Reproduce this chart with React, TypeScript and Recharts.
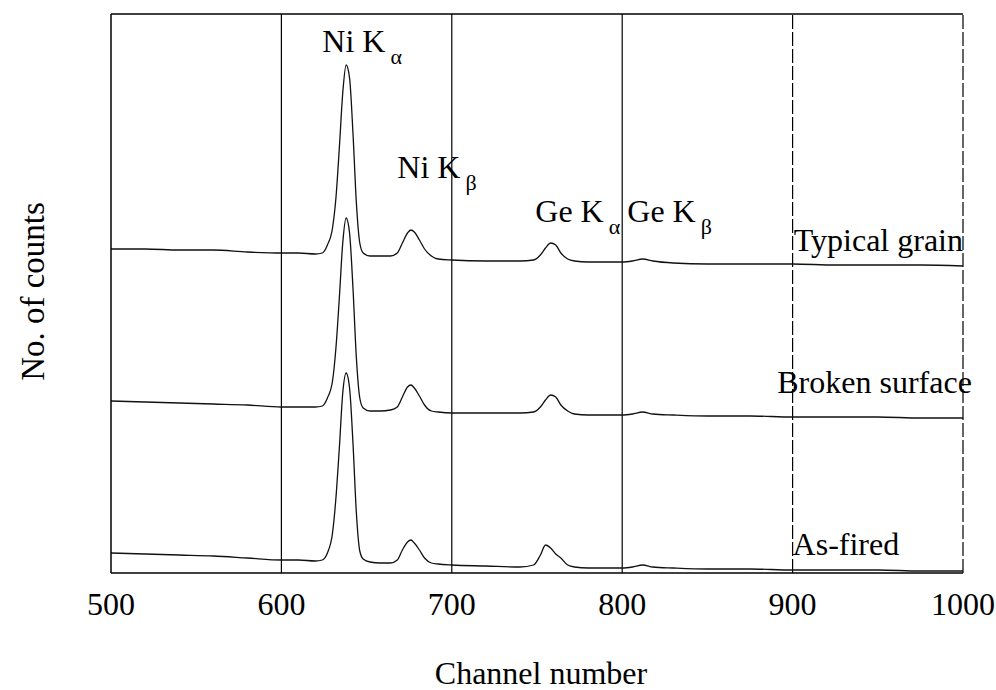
import React from 'react'
import {
  LineChart,
  Line,
  XAxis,
  YAxis,
  ReferenceLine,
  ReferenceDot,
} from 'recharts'

const FONT = "'Liberation Serif', 'Times New Roman', serif"

// channel numbers sampled along the spectra
const channels = [
  500, 520, 540, 560, 580, 600, 610, 620, 624, 627, 630, 632, 634, 636, 638,
  640, 642, 644, 646, 648, 652, 658, 664, 668, 671, 674, 676, 678, 681, 684,
  688, 692, 700, 720, 740, 748, 752, 755, 758, 761, 764, 768, 772, 780, 800,
  806, 812, 818, 830, 850, 875, 900, 925, 950, 975, 1000,
]

// counts (arbitrary units, spectra stacked with offsets as in the figure)
const typicalGrain = [
  324, 324, 323, 323, 321, 320, 320, 319, 320, 328, 345, 375, 425, 480, 508,
  495, 440, 370, 330, 320, 317, 317, 317, 320, 330, 340, 343, 341, 333, 324,
  317, 314, 313, 312, 312, 313, 318, 325, 330, 328, 320, 314, 312, 311, 311,
  312, 314, 312, 310, 309, 309, 309, 308, 308, 308, 307,
]

const brokenSurface = [
  172, 171, 170, 169, 168, 166, 166, 166, 167, 175, 192, 225, 275, 330, 355,
  340, 285, 215, 175, 165, 162, 162, 163, 166, 176, 186, 188, 185, 177, 168,
  162, 161, 160, 160, 160, 161, 166, 173, 178, 176, 168, 162, 159, 158, 158,
  159, 161, 159, 158, 157, 157, 156, 156, 156, 155, 155,
]

const asFired = [
  20, 19, 18, 17, 15, 13, 13, 12, 13, 20, 40, 75, 125, 180, 200,
  185, 130, 60, 22, 14, 11, 10, 10, 13, 23, 31, 33, 30, 23, 15,
  10, 9, 8, 7, 6, 8, 18, 28, 25, 19, 15, 8, 6, 5, 5,
  6, 8, 6, 5, 4, 4, 3, 3, 3, 2, 2,
]

const xTicks = [500, 600, 700, 800, 900, 1000]

const peakLabels = [
  { main: 'Ni K', sub: 'α', channel: 624, counts: 521 },
  { main: 'Ni K', sub: 'β', channel: 668, counts: 395 },
  { main: 'Ge K', sub: 'α', channel: 749, counts: 351 },
  { main: 'Ge K', sub: 'β', channel: 803, counts: 351 },
]

const spectrumLabels = [
  { text: 'Typical grain', channel: 1000, counts: 322, anchor: 'end' },
  { text: 'Broken surface', channel: 891, counts: 180, anchor: 'start' },
  { text: 'As-fired', channel: 900, counts: 18, anchor: 'start' },
]

const rows = channels.map((c, i) => ({
  channel: c,
  typical: typicalGrain[i],
  broken: brokenSurface[i],
  asFired: asFired[i],
}))

const peakLabel = (main: string, sub: string) => (props: any) => {
  const { x, y } = props.viewBox
  return (
    <text x={x} y={y} fontFamily={FONT} fontSize={32} fill="#000">
      {main}
      <tspan dx={5} dy={12} fontSize={22}>
        {sub}
      </tspan>
    </text>
  )
}

const plainLabel = (text: string, anchor: string) => (props: any) => {
  const { x, y } = props.viewBox
  return (
    <text x={x} y={y} fontFamily={FONT} fontSize={32} fill="#000" textAnchor={anchor}>
      {text}
    </text>
  )
}

export default function App() {
  return (
    <div style={{ position: 'absolute', left: 0, top: 0, width: 996, height: 690, background: '#fff' }}>
      <LineChart
        width={996}
        height={690}
        data={rows}
        margin={{ top: 14, right: 33, bottom: 0, left: 0 }}
      >
        <XAxis
          dataKey="channel"
          type="number"
          domain={[500, 1000]}
          ticks={xTicks}
          height={117}
          tickSize={0}
          tickMargin={19}
          axisLine={{ stroke: '#000', strokeWidth: 1.5 }}
          tick={{ fill: '#000', fontSize: 32, fontFamily: FONT }}
          label={(props: any) => {
            const { x, width } = props.viewBox
            return (
              <text x={x + width / 2 + 4} y={684} textAnchor="middle" fontFamily={FONT} fontSize={32} fill="#000">
                Channel number
              </text>
            )
          }}
        />
        <YAxis
          type="number"
          domain={[0, 559]}
          width={111}
          tick={false}
          tickLine={false}
          axisLine={{ stroke: '#000', strokeWidth: 1.5 }}
          label={(props: any) => {
            const { y, height } = props.viewBox
            const cy = y + height / 2 - 2
            return (
              <text
                x={44}
                y={cy}
                transform={`rotate(-90, 44, ${cy})`}
                textAnchor="middle"
                fontFamily={FONT}
                fontSize={33}
                fill="#000"
              >
                No. of counts
              </text>
            )
          }}
        />
        <ReferenceLine y={559} stroke="#000" strokeWidth={1.5} />
        <ReferenceLine x={600} stroke="#000" strokeWidth={1.2} />
        <ReferenceLine x={700} stroke="#000" strokeWidth={1.2} />
        <ReferenceLine x={800} stroke="#000" strokeWidth={1.2} />
        <ReferenceLine x={900} stroke="#000" strokeWidth={1.2} strokeDasharray="14 3" />
        <ReferenceLine x={1000} stroke="#000" strokeWidth={1.2} strokeDasharray="14 3" />

        <Line type="monotone" dataKey="typical" stroke="#111" strokeWidth={1.3} dot={false} isAnimationActive={false} />
        <Line type="monotone" dataKey="broken" stroke="#111" strokeWidth={1.3} dot={false} isAnimationActive={false} />
        <Line type="monotone" dataKey="asFired" stroke="#111" strokeWidth={1.3} dot={false} isAnimationActive={false} />

        {peakLabels.map((p, i) => (
          <ReferenceDot
            key={'p' + i}
            x={p.channel}
            y={p.counts}
            r={0}
            fill="none"
            stroke="none"
            ifOverflow="visible"
            label={peakLabel(p.main, p.sub)}
          />
        ))}
        {spectrumLabels.map((s, i) => (
          <ReferenceDot
            key={'s' + i}
            x={s.channel}
            y={s.counts}
            r={0}
            fill="none"
            stroke="none"
            ifOverflow="visible"
            label={plainLabel(s.text, s.anchor)}
          />
        ))}
      </LineChart>
    </div>
  )
}
